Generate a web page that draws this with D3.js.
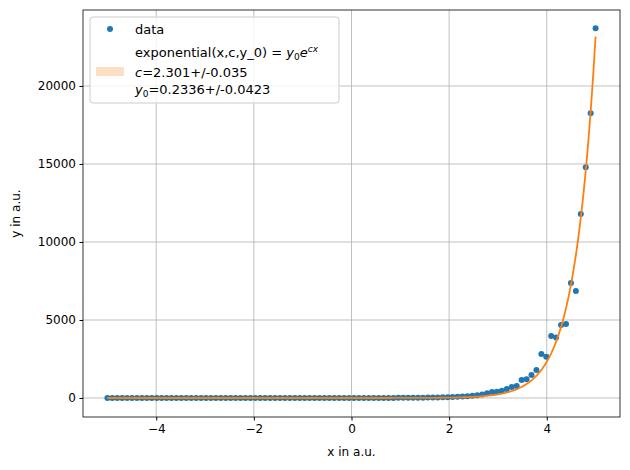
<!DOCTYPE html>
<html><head><meta charset="utf-8">
<script src="https://cdn.jsdelivr.net/npm/d3@7"></script>
<style>body{margin:0;background:#fff}text{font-family:"DejaVu Sans",sans-serif}</style>
</head><body><svg id="c" width="630" height="470"></svg>
<script>
const yValues = [
 0,0,0,0,0,0,0,0,0,0, 0,0,0,0,0,0,0,0,0,0,
 0,0,0,0,0,0,0,0,0,0, 0,0,0,0,0,0,0,0,0,0,
 0,0,0,0,1,1,1,1,1,2, 2,2,3,3,4,4,5,6,7,9,
 10,12,14,17,20,24,28,34,40,48, 60,75,90,110,140,180,220,300,380,400,
 470,580,700,770,1150,1200,1470,1800,2820,2650, 3970,3870,4680,4740,7370,6860,11800,14790,18250,23700];
const fitC = 2.301, fitY0 = 0.2336;
const xTicks = [-4,-2,0,2,4];
const yTicks = [0,5000,10000,15000,20000];
const xValues = d3.range(100).map(i => -5 + i*10/99);

const svg = d3.select("#c");
const L=83, R=620, T=10, B=417;
const x = d3.scaleLinear().domain([-5.5,5.5]).range([L,R]);
const y = d3.scaleLinear().domain([-1218,24870]).range([B,T]);

const g = svg.append("g");
g.selectAll(".gx").data(xTicks).enter().append("line").attr("x1",d=>x(d)).attr("x2",d=>x(d)).attr("y1",T).attr("y2",B).attr("stroke","#b0b0b0").attr("stroke-width",0.8);
g.selectAll(".gy").data(yTicks).enter().append("line").attr("y1",d=>y(d)).attr("y2",d=>y(d)).attr("x1",L).attr("x2",R).attr("stroke","#b0b0b0").attr("stroke-width",0.8);

svg.append("g").selectAll("circle").data(xValues).enter().append("circle")
 .attr("cx",(d)=>x(d)).attr("cy",(d,i)=>y(yValues[i])).attr("r",3).attr("fill","#1f77b4");

const fx = d3.range(0,201).map(i=>-5+i*10/200);
svg.append("path").datum(fx).attr("fill","none").attr("stroke","#ff7f0e").attr("stroke-width",1.8)
 .attr("d", d3.line().x(d=>x(d)).y(d=>y(fitY0*Math.exp(fitC*d))));

const xa = svg.append("g").attr("transform",`translate(0,${B})`).call(d3.axisBottom(x).tickValues(xTicks).tickFormat(d=>d<0?"−"+(-d):d).tickSize(3.5).tickPadding(3.5));
const ya = svg.append("g").attr("transform",`translate(${L},0)`).call(d3.axisLeft(y).tickValues(yTicks).tickFormat(d=>String(d)).tickSize(3.5).tickPadding(3.5));
[xa,ya].forEach(a=>{a.select(".domain").remove();a.selectAll("text").attr("font-size",12).attr("fill","#000").style("font-family","DejaVu Sans");a.selectAll("line").attr("stroke","#000");});
svg.append("rect").attr("x",L).attr("y",T).attr("width",R-L).attr("height",B-T).attr("fill","none").attr("stroke","#000").attr("stroke-width",0.8);

svg.append("text").attr("x",(L+R)/2).attr("y",456).attr("text-anchor","middle").attr("font-size",12).text("x in a.u.");
svg.append("text").attr("transform",`translate(20,${(T+B)/2}) rotate(-90)`).attr("text-anchor","middle").attr("font-size",12).text("y in a.u.");

const lg = svg.append("g");
lg.append("rect").attr("x",90).attr("y",17).attr("width",249).attr("height",86).attr("rx",3).attr("fill","#fff").attr("fill-opacity",0.8).attr("stroke","#ccc");
lg.append("circle").attr("cx",110).attr("cy",29).attr("r",3).attr("fill","#1f77b4");
lg.append("text").attr("x",135).attr("y",34).attr("font-size",13).text("data");
lg.append("rect").attr("x",96).attr("y",67).attr("width",28).attr("height",9).attr("fill","#ff7f0e").attr("fill-opacity",0.25);
const t1 = lg.append("text").attr("x",135).attr("y",57).attr("font-size",13);
t1.append("tspan").text("exponential(x,c,y_0) = ");
t1.append("tspan").attr("font-style","italic").text("y");
t1.append("tspan").attr("font-size",9).attr("dy",3).text("0");
t1.append("tspan").attr("font-style","italic").attr("dy",-3).text("e");
t1.append("tspan").attr("font-style","italic").attr("font-size",9).attr("dy",-5).text("cx");
const t2 = lg.append("text").attr("x",135).attr("y",77).attr("font-size",13);
t2.append("tspan").attr("font-style","italic").text("c");
t2.append("tspan").text("=2.301+/-0.035");
const t3 = lg.append("text").attr("x",135).attr("y",94).attr("font-size",13);
t3.append("tspan").attr("font-style","italic").text("y");
t3.append("tspan").attr("font-size",9).attr("dy",3).text("0");
t3.append("tspan").attr("dy",-3).text("=0.2336+/-0.0423");
</script></body></html>
